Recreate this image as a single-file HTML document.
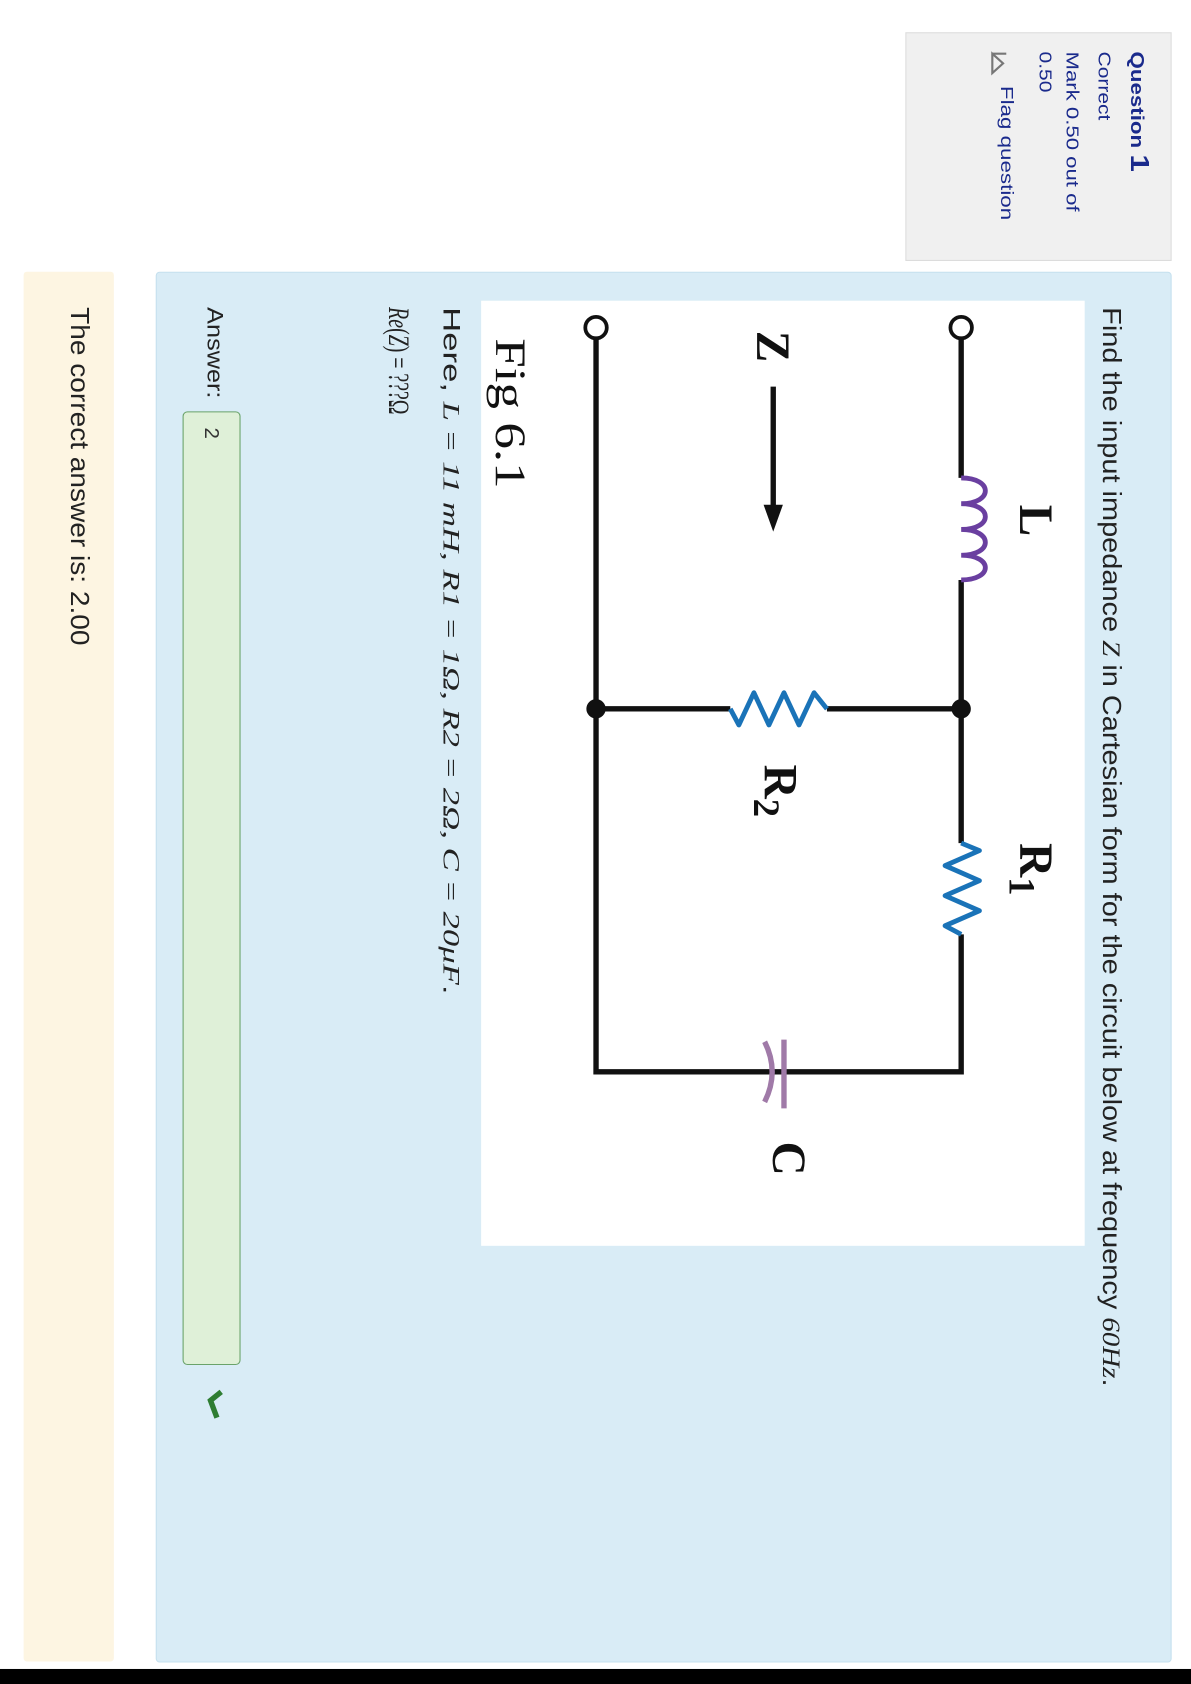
<!DOCTYPE html>
<html><head><meta charset="utf-8"><style>
html,body{margin:0;padding:0;background:#fff;}
svg{display:block}
</style></head><body>
<svg width="1191" height="1684" viewBox="0 0 1109 1568" preserveAspectRatio="none" xmlns="http://www.w3.org/2000/svg" font-family="Liberation Sans, sans-serif">
<rect x="843.5" y="30.5" width="247" height="212" fill="#f0f0f0" stroke="#dcdcdc"/>
<g fill="#1a2a8c">
<text transform="translate(1053,48) rotate(90)" font-size="17" font-weight="bold" textLength="112" lengthAdjust="spacingAndGlyphs">Question <tspan font-size="24">1</tspan></text>
<text transform="translate(1023,48) rotate(90)" font-size="16" textLength="64" lengthAdjust="spacingAndGlyphs">Correct</text>
<text transform="translate(993,48) rotate(90)" font-size="16" textLength="149" lengthAdjust="spacingAndGlyphs">Mark 0.50 out of</text>
<text transform="translate(968,48) rotate(90)" font-size="16" textLength="38" lengthAdjust="spacingAndGlyphs">0.50</text>
<text transform="translate(932,80) rotate(90)" font-size="16" textLength="125" lengthAdjust="spacingAndGlyphs">Flag question</text>
</g>
<path d="M924,50 L924,68 L934,59 Z M924,50 L937,50" fill="none" stroke="#777" stroke-width="2"/>
<rect x="145.5" y="253.5" width="945" height="1294" rx="3" fill="#d9ecf6" stroke="#c5e0ee"/>
<rect x="22" y="253" width="84" height="1294" rx="3" fill="#fdf5e2"/>
<rect x="0" y="1554" width="1109" height="14" fill="#000"/>
<g fill="#222" font-size="24">
<text transform="translate(1027,286) rotate(90)" textLength="1005" lengthAdjust="spacingAndGlyphs">Find the input impedance <tspan font-family="Liberation Serif" font-style="italic">Z</tspan> in Cartesian form for the circuit below at frequency <tspan font-family="Liberation Serif" font-style="italic">60Hz</tspan>.</text>
<text transform="translate(413,286) rotate(90)" font-size="22" textLength="640" lengthAdjust="spacingAndGlyphs">Here, <tspan font-family="Liberation Serif" font-style="italic">L = 11 mH, R1 = 1Ω, R2 = 2Ω, C = 20μF</tspan>.</text>
<text transform="translate(362,286) rotate(90)" font-family="Liberation Serif" font-size="28" textLength="100" lengthAdjust="spacingAndGlyphs"><tspan font-style="italic">Re</tspan>(<tspan font-style="italic">Z</tspan>) = ???Ω</text>
<text transform="translate(193,286) rotate(90)" font-size="21" textLength="85" lengthAdjust="spacingAndGlyphs">Answer:</text>
<text transform="translate(66,286) rotate(90)" textLength="315" lengthAdjust="spacingAndGlyphs">The correct answer is: 2.00</text>
</g>
<rect x="170.5" y="383.5" width="53" height="887" rx="4" fill="#dff0d8" stroke="#6aa36a"/>
<text transform="translate(191,398) rotate(90)" font-size="19" fill="#333">2</text>
<path d="M206,1296 L196,1304 L202,1320" fill="none" stroke="#2e7d32" stroke-width="5"/>
<rect x="448" y="280" width="562" height="880" fill="#fff"/>
<g stroke="#111" stroke-width="5" fill="none">
<path d="M895,315 L895,445 M895,540 L895,785 M895,870 L895,998 L555,998 L555,315"/>
<path d="M555,660 L680,660 M770,660 L895,660"/>
<path d="M720,360 L720,475"/>
</g>
<circle cx="895" cy="305" r="10" fill="#fff" stroke="#111" stroke-width="3.5"/>
<circle cx="555" cy="305" r="10" fill="#fff" stroke="#111" stroke-width="3.5"/>
<circle cx="895" cy="660" r="9" fill="#111"/>
<circle cx="555" cy="660" r="9" fill="#111"/>
<path d="M711,470 L729,470 L720,495 Z" fill="#111"/>
<path d="M895,445 C925,445 925,469 895,469 C925,469 925,493 895,493 C925,493 925,517 895,517 C925,517 925,540 895,540" fill="none" stroke="#6a3fa0" stroke-width="4.5"/>
<path d="M895,785 L912,792 L880,806 L912,820 L880,834 L912,848 L880,862 L895,870" fill="none" stroke="#1a73b8" stroke-width="4.5" stroke-linejoin="round"/>
<path d="M680,660 L688,675 L702,645 L716,675 L730,645 L744,675 L758,645 L770,660" fill="none" stroke="#1a73b8" stroke-width="4.5" stroke-linejoin="round"/>
<g stroke="#a07aa8" stroke-width="5" fill="none">
<path d="M730,968 L730,1032"/>
<path d="M712,970 Q726,998 712,1026"/>
</g>
<g font-family="Liberation Serif, serif" font-weight="bold" fill="#111" font-size="44">
<text transform="translate(950,470) rotate(90)">L</text>
<text transform="translate(950,785) rotate(90)">R<tspan font-size="34" dy="10">1</tspan></text>
<text transform="translate(712,712) rotate(90)">R<tspan font-size="34" dy="10">2</tspan></text>
<text transform="translate(720,1063) rotate(90)">C</text>
<text transform="translate(705,308) rotate(90)">Z</text>
</g>
<text transform="translate(462,315) rotate(90)" font-family="Liberation Serif, serif" font-size="40" fill="#111" textLength="140" lengthAdjust="spacingAndGlyphs">Fig 6.1</text>
</svg>
</body></html>
